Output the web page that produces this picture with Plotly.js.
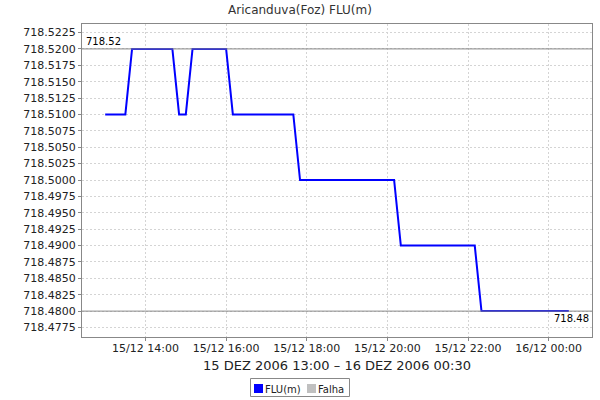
<!DOCTYPE html>
<html>
<head>
<meta charset="utf-8">
<script src="https://cdn.plot.ly/plotly-3.0.1.min.js"></script>
<style>html,body{margin:0;padding:0;background:#fff;} #chart{width:600px;height:400px;}</style>
</head>
<body>
<div id="chart"></div>
<script>
var times = [
"2006-12-15 13:00","2006-12-15 13:10","2006-12-15 13:20","2006-12-15 13:30",
"2006-12-15 13:40","2006-12-15 13:50","2006-12-15 14:00","2006-12-15 14:10","2006-12-15 14:20","2006-12-15 14:30","2006-12-15 14:40",
"2006-12-15 14:50","2006-12-15 15:00",
"2006-12-15 15:10","2006-12-15 15:20","2006-12-15 15:30","2006-12-15 15:40","2006-12-15 15:50","2006-12-15 16:00",
"2006-12-15 16:10","2006-12-15 16:20","2006-12-15 16:30","2006-12-15 16:40","2006-12-15 16:50","2006-12-15 17:00","2006-12-15 17:10","2006-12-15 17:20","2006-12-15 17:30","2006-12-15 17:40",
"2006-12-15 17:50","2006-12-15 18:00","2006-12-15 18:10","2006-12-15 18:20","2006-12-15 18:30","2006-12-15 18:40","2006-12-15 18:50","2006-12-15 19:00","2006-12-15 19:10","2006-12-15 19:20","2006-12-15 19:30","2006-12-15 19:40","2006-12-15 19:50","2006-12-15 20:00","2006-12-15 20:10",
"2006-12-15 20:20","2006-12-15 20:30","2006-12-15 20:40","2006-12-15 20:50","2006-12-15 21:00","2006-12-15 21:10","2006-12-15 21:20","2006-12-15 21:30","2006-12-15 21:40","2006-12-15 21:50","2006-12-15 22:00","2006-12-15 22:10",
"2006-12-15 22:20","2006-12-15 22:30","2006-12-15 22:40","2006-12-15 22:50","2006-12-15 23:00","2006-12-15 23:10","2006-12-15 23:20","2006-12-15 23:30","2006-12-15 23:40","2006-12-15 23:50","2006-12-16 00:00","2006-12-16 00:10","2006-12-16 00:20","2006-12-16 00:30"
];
var flu = [
718.51,718.51,718.51,718.51,
718.52,718.52,718.52,718.52,718.52,718.52,718.52,
718.51,718.51,
718.52,718.52,718.52,718.52,718.52,718.52,
718.51,718.51,718.51,718.51,718.51,718.51,718.51,718.51,718.51,718.51,
718.50,718.50,718.50,718.50,718.50,718.50,718.50,718.50,718.50,718.50,718.50,718.50,718.50,718.50,718.50,
718.49,718.49,718.49,718.49,718.49,718.49,718.49,718.49,718.49,718.49,718.49,718.49,
718.48,718.48,718.48,718.48,718.48,718.48,718.48,718.48,718.48,718.48,718.48,718.48,718.48,718.48
];
var maxVal = 718.52;
var minVal = 718.48;
var maxLabel = "718.52";
var minLabel = "718.48";
var xTickVals = ["2006-12-15 14:00","2006-12-15 16:00","2006-12-15 18:00","2006-12-15 20:00","2006-12-15 22:00","2006-12-16 00:00"];
var xTickText = ["15/12 14:00","15/12 16:00","15/12 18:00","15/12 20:00","15/12 22:00","16/12 00:00"];
var xTitle = "15 DEZ 2006 13:00 \u2013 16 DEZ 2006 00:30";
var xRange = ["2006-12-15 12:25:30","2006-12-16 01:04:30"];
var yRange = [718.47605, 718.5238];
var seriesNames = ["FLU(m)","Falha"];
var seriesColors = ["#0000ff","#c0c0c0"];

var font = "DejaVu Sans, sans-serif";
// plot area in pixels
var L = 82, R = 8, T = 24, B = 63, W = 600, H = 400;
var pw = W - L - R, ph = H - T - B;
function px(x) { return (x - L) / pw; }
function py(y) { return (H - B - y) / ph; }

var traces = [
  {x: times, y: flu, type: 'scatter', mode: 'lines', line: {color: seriesColors[0], width: 2}, showlegend: false, hoverinfo: 'skip', name: seriesNames[0]}
];

var shapes = [
  {type: 'line', xref: 'paper', x0: 0, x1: 1, yref: 'y', y0: maxVal, y1: maxVal, line: {color: '#888', width: 1}},
  {type: 'line', xref: 'paper', x0: 0, x1: 1, yref: 'y', y0: minVal, y1: minVal, line: {color: '#888', width: 1}},
  // legend box
  {type: 'rect', xref: 'paper', yref: 'paper', x0: px(250.5), x1: px(349.5), y0: py(396.5), y1: py(378.5), line: {color: '#888', width: 1}, fillcolor: 'rgba(0,0,0,0)'},
  {type: 'rect', xref: 'paper', yref: 'paper', x0: px(254), x1: px(263), y0: py(393), y1: py(384), line: {width: 0}, fillcolor: seriesColors[0]},
  {type: 'rect', xref: 'paper', yref: 'paper', x0: px(307), x1: px(316), y0: py(393), y1: py(384), line: {width: 0}, fillcolor: seriesColors[1]}
];

var annotations = [
  {xref: 'paper', x: 0.003, xanchor: 'left', yref: 'y', y: maxVal, yanchor: 'bottom', text: maxLabel, showarrow: false, font: {family: font, size: 10, color: '#000'}},
  {xref: 'paper', x: 0.998, xanchor: 'right', yref: 'y', y: minVal, yanchor: 'top', text: minLabel, showarrow: false, font: {family: font, size: 10, color: '#000'}},
  {xref: 'paper', x: 0.5, xanchor: 'center', yref: 'paper', y: py(365), yanchor: 'middle', text: xTitle, showarrow: false, font: {family: font, size: 13, color: '#222'}},
  {xref: 'paper', x: px(265), xanchor: 'left', yref: 'paper', y: py(389), yanchor: 'middle', text: seriesNames[0], showarrow: false, font: {family: font, size: 10, color: '#222'}, xshift: -2},
  {xref: 'paper', x: px(318), xanchor: 'left', yref: 'paper', y: py(389), yanchor: 'middle', text: seriesNames[1], showarrow: false, font: {family: font, size: 10, color: '#222'}, xshift: -2}
];

var layout = {
  width: W, height: H,
  margin: {l: L, r: R, t: T, b: B, autoexpand: false},
  paper_bgcolor: '#ffffff', plot_bgcolor: '#ffffff',
  font: {family: font, size: 11, color: '#000'},
  showlegend: false,
  title: {text: 'Aricanduva(Foz) FLU(m)', font: {family: font, size: 12, color: '#333'}, x: 0.5, xanchor: 'center', y: 0.975, yanchor: 'middle'},
  xaxis: {
    type: 'date', range: xRange, tickmode: 'array', tickvals: xTickVals, ticktext: xTickText,
    showgrid: true, gridcolor: '#d4d4d4', griddash: '2px,2px', gridwidth: 1,
    showline: true, linecolor: '#888', mirror: true, ticks: 'outside', ticklen: 3, tickcolor: '#888',
    ticklabelstandoff: -2,
    zeroline: false, automargin: false, tickfont: {family: font, size: 11, color: '#222'}
  },
  yaxis: {
    range: yRange, tickmode: 'linear', tick0: 718.4775, dtick: 0.0025, tickformat: '.4f',
    showgrid: true, gridcolor: '#d4d4d4', griddash: '2px,2px', gridwidth: 1,
    showline: true, linecolor: '#888', mirror: true, ticks: 'outside', ticklen: 3, tickcolor: '#888',
    zeroline: false, automargin: false, tickfont: {family: font, size: 11, color: '#222'}
  },
  shapes: shapes,
  annotations: annotations
};
Plotly.newPlot('chart', traces, layout, {staticPlot: true, displayModeBar: false});
</script>
</body>
</html>
